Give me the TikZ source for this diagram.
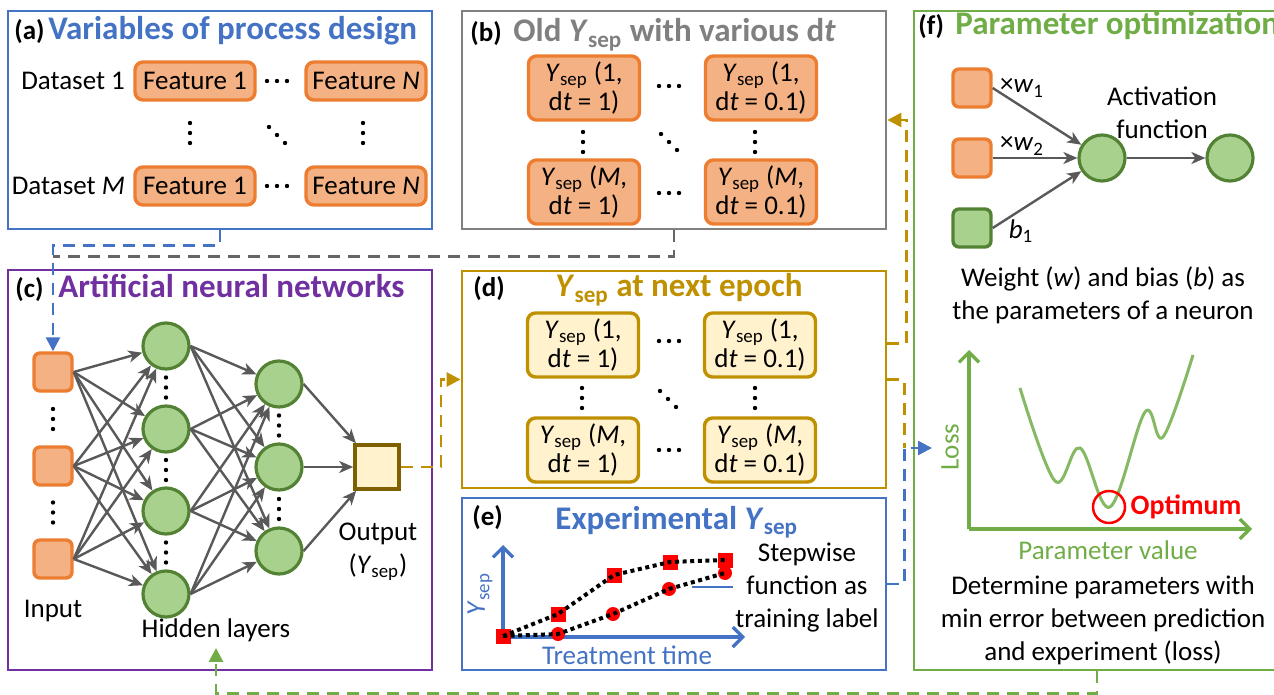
\documentclass[tikz,border=0pt]{standalone}
\usepackage{fontspec}
\setmainfont{Carlito}
\usetikzlibrary{arrows.meta,positioning,calc}

\definecolor{cblue}{HTML}{4472C4}
\definecolor{cgray}{HTML}{808080}
\definecolor{dashgray}{HTML}{666666}
\definecolor{cpurple}{HTML}{7030A0}
\definecolor{cgold}{HTML}{BF9000}
\definecolor{cgreen}{HTML}{70AD47}
\definecolor{corange}{HTML}{ED7D31}
\definecolor{orfill}{HTML}{F4B183}
\definecolor{grfill}{HTML}{A9D18E}
\definecolor{grdark}{HTML}{548235}
\definecolor{yefill}{HTML}{FFF2CC}
\definecolor{cbrown}{HTML}{7F6000}
\definecolor{arrgray}{HTML}{595959}

\newcommand{\ysep}{\textit{Y}\textsubscript{sep}}
% dot rows (vertical, horizontal, diagonal)
\newcommand{\vdotz}[1]{\foreach \dk in {-10,0,10}{\fill ($#1+(0,\dk)$) circle (1.1pt);}}
\newcommand{\hdotz}[1]{\foreach \dk in {-10,0,10}{\fill ($#1+(\dk,0)$) circle (1.1pt);}}
\newcommand{\ddotz}[1]{\foreach \dk in {-8,0,8}{\fill ($#1+(\dk,\dk)$) circle (1.1pt);}}

\tikzset{
  panel/.style={draw, line width=1.4pt, inner sep=0pt},
  ptag/.style={font=\bfseries\fontsize{13.5}{16}\selectfont, anchor=base west, inner sep=0pt},
  ptitle/.style={font=\bfseries\fontsize{16.5}{19}\selectfont, anchor=base west, inner sep=0pt},
  txt/.style={font=\fontsize{13.5}{16.5}\selectfont, inner sep=1pt, align=center},
  featbox/.style={draw=corange, fill=orfill, line width=1.7pt, rounded corners=4pt,
    minimum width=60pt, minimum height=19pt, inner sep=0pt, font=\fontsize{13.5}{16}\selectfont},
  oldbox/.style={featbox, minimum width=55.5pt, minimum height=32pt, align=center,
    font=\fontsize{13.5}{12.5}\selectfont},
  newbox/.style={oldbox, draw=cgold, fill=yefill},
  inbox/.style={draw=corange, fill=orfill, line width=1.7pt, rounded corners=3pt,
    minimum size=19pt, inner sep=0pt},
  neuron/.style={circle, draw=grdark, fill=grfill, line width=1.6pt, minimum size=23pt, inner sep=0pt},
  outbox/.style={draw=cbrown, fill=yefill, line width=1.8pt, minimum size=22pt, inner sep=0pt},
  nnarrow/.style={draw=arrgray, line width=1.2pt, -{Stealth[length=7pt,width=6pt,inset=2pt]}},
  flowdash/.style={line width=1.3pt, dash pattern=on 6pt off 4pt},
  flowtip/.style={-{Triangle[length=7pt,width=7pt]}},
  axisline/.style={line width=1.6pt, -{Straight Barb[length=5pt,width=10pt]}},
  mksq/.style={fill=red, minimum size=7.5pt, inner sep=0pt},
  mkci/.style={circle, fill=red, minimum size=7pt, inner sep=0pt},
  stepdots/.style={line width=2pt, dash pattern=on 2pt off 1.8pt},
}

\begin{document}
\begin{tikzpicture}[x=0.5pt,y=-0.5pt]
\useasboundingbox (0,0) rectangle (1274,695);

% Panels
\node[panel, draw=cblue, minimum width=212pt, minimum height=109pt] (pa) at (220,120) {};
\node[panel, draw=cgray, minimum width=212pt, minimum height=109pt] (pb) at (674,120) {};
\node[panel, draw=cpurple, minimum width=212pt, minimum height=200pt] (pc) at (220,470) {};
\node[panel, draw=cgold, minimum width=212pt, minimum height=108.5pt] (pd) at (674,379.5) {};
\node[panel, draw=cblue, minimum width=212pt, minimum height=86pt] (pe) at (674,584) {};
\node[panel, draw=cgreen, minimum width=183pt, minimum height=329.5pt] (pf) at (1097,340.5) {};

% (a) Variables of process design
\node[ptag] at (14,40) {(a)};
\node[ptitle, text=cblue] at (48,40) {Variables of process design};
\node[featbox] (f11) at (195,81) {Feature 1};
\node[featbox] (f1n) at (366,81) {Feature \textit{N}};
\node[featbox] (fm1) at (195,186) {Feature 1};
\node[featbox] (fmn) at (366,186) {Feature \textit{N}};
\node[txt, left=3pt of f11] (ds1) {Dataset 1};
\node[txt, left=3pt of fm1] (dsm) {Dataset \textit{M}};
\hdotz{(277,81)} \hdotz{(277,186)}
\vdotz{(190,133)} \vdotz{(363,133)} \ddotz{(277,135)}

% (b) Old Ysep
\node[ptag] at (470,42) {(b)};
\node[ptitle, text=cgray] at (513,42) {Old \ysep\ with various d\textit{t}};
\node[oldbox] (o11) at (584,88) {\ysep\ (1,\\d\textit{t} = 1)};
\node[oldbox] (o1n) at (761,88) {\ysep\ (1,\\d\textit{t} = 0.1)};
\node[oldbox] (om1) at (584,192) {\ysep\ (\textit{M},\\d\textit{t} = 1)};
\node[oldbox] (omn) at (761,192) {\ysep\ (\textit{M},\\d\textit{t} = 0.1)};
\hdotz{(669,86)} \hdotz{(669,193)}
\vdotz{(583,142)} \vdotz{(755,142)} \ddotz{(669,142)}

% (c) Artificial neural networks
\node[ptag] at (15,298) {(c)};
\node[ptitle, text=cpurple] at (58,298) {Artificial neural networks};
\foreach \y [count=\i] in {372,466,559} \node[inbox] (in\i) at (53,\y) {};
\foreach \y [count=\i] in {346,429,511,594} \node[neuron] (ha\i) at (166,\y) {};
\foreach \y [count=\i] in {384,467,551} \node[neuron] (hb\i) at (279,\y) {};
\node[outbox] (out) at (377,467) {};
\foreach \i in {1,2,3} \foreach \j in {1,...,4} \draw[nnarrow] (in\i.east) -- (ha\j);
\foreach \i in {1,...,4} \foreach \j in {1,2,3} \draw[nnarrow] (ha\i.east) -- (hb\j);
\foreach \i in {1,2,3} \draw[nnarrow] (hb\i.east) -- (out);
\vdotz{(in1)!.5!(in2)} \vdotz{(in2)!.5!(in3)}
\vdotz{(ha1)!.5!(ha2)} \vdotz{(ha2)!.5!(ha3)} \vdotz{(ha3)!.5!(ha4)}
\vdotz{(hb1)!.5!(hb2)} \vdotz{(hb2)!.5!(hb3)}
\node[txt] (inl) at (53,611) {Input};
\node[txt] (hidl) at (216,630) {Hidden layers};
\node[txt] (outl) at (378,552) {Output\\(\ysep)};

% (d) Ysep at next epoch
\node[ptag] at (473,297) {(d)};
\node[ptitle, text=cgold] at (555,297) {\ysep\ at next epoch};
\node[newbox] (n11) at (583,345) {\ysep\ (1,\\d\textit{t} = 1)};
\node[newbox] (n1n) at (760,345) {\ysep\ (1,\\d\textit{t} = 0.1)};
\node[newbox] (nm1) at (583,450) {\ysep\ (\textit{M},\\d\textit{t} = 1)};
\node[newbox] (nmn) at (760,450) {\ysep\ (\textit{M},\\d\textit{t} = 0.1)};
\hdotz{(669,341)} \hdotz{(669,450)}
\vdotz{(582,398)} \vdotz{(755,398)} \ddotz{(668,399)}

% (e) Experimental Ysep
\node[ptag] at (472,525) {(e)};
\node[ptitle, text=cblue] at (555,529) {Experimental \ysep};
\coordinate (eo) at (503,637);
\coordinate (ey) at (503,545);
\coordinate (ex) at (745,637);
\draw[axisline, cblue] (eo) -- (ey);
\draw[axisline, cblue] (eo) -- (ex);
\node[txt, text=cblue, rotate=90] (eyl) at (480,594) {\ysep};
\node[txt, text=cblue] (exl) at (627,655) {Treatment time};
\foreach \x/\y [count=\i] in {503/636,558/614,614/575,670/562,725/560} \node[mksq] (s\i) at (\x,\y) {};
\foreach \x/\y [count=\i] in {558/634,613/614,669/589,725/573} \node[mkci] (c\i) at (\x,\y) {};
\draw[stepdots] (s1.center) -- (s2.center) -- (s3.center) -- (s4.center) -- (s5.center);
\draw[stepdots] (s1.center) -- (c1.center) -- (c2.center) -- (c3.center) -- (c4.center);
\node[txt] (stepl) at (807,588) {Stepwise\\function as\\training label};
\coordinate (ptr) at (692,587);
\draw[cblue, line width=1.3pt] (ptr) -- (ptr -| stepl.west);

% (f) Parameter optimization
\node[ptag] at (918,35) {(f)};
\node[ptitle, text=cgreen] at (955,35) {Parameter optimization};
\node[inbox] (w1) at (972,88) {};
\node[inbox] (w2) at (972,158) {};
\node[inbox, draw=grdark, fill=grfill] (b1) at (972,228) {};
\node[neuron] (act) at (1102,158) {};
\node[neuron] (actout) at (1230,158) {};
\draw[nnarrow] (w1.east) -- (act);
\draw[nnarrow] (w2.east) -- (act);
\draw[nnarrow] (b1.east) -- (act);
\draw[nnarrow] (act) -- (actout);
\node[txt] (w1l) at (1022,88) {×\textit{w}\textsubscript{1}};
\node[txt] (w2l) at (1022,146) {×\textit{w}\textsubscript{2}};
\node[txt] (b1l) at (1021,231) {\textit{b}\textsubscript{1}};
\node[txt] (actl) at (1162,113) {Activation\\function};
\node[txt] (wbl) at (1103,295) {Weight (\textit{w}) and bias (\textit{b}) as\\the parameters of a neuron};
\coordinate (lo) at (969,529);
\coordinate (ly) at (969,350);
\coordinate (lx) at (1252,529);
\draw[axisline, cgreen] (lo) -- (ly);
\draw[axisline, cgreen] (lo) -- (lx);
\node[txt, text=cgreen, rotate=90] (lossl) at (950,447) {Loss};
\node[txt, text=cgreen] (parl) at (1108,550) {Parameter value};
\draw[cgreen!85, line width=1.5pt] plot[smooth, tension=0.6] coordinates {(1020,388) (1055,481) (1080,448) (1110,507) (1145,412) (1163,437) (1193,355)};
\node[circle, draw=red, line width=1.25pt, minimum size=16pt, inner sep=0pt] (optc) at (1109,507) {};
\node[font=\bfseries\fontsize{14}{16}\selectfont, text=red, inner sep=1pt, right=1pt of optc] (optl) {Optimum};
\node[txt] (detl) at (1103,620) {Determine parameters with\\min error between prediction\\and experiment (loss)};

% Flow connectors
\coordinate (lossin) at (932,448);
\draw[flowdash, cblue, flowtip] (pa.south) -- ++(0,15) -| (in1.north);
\draw[flowdash, dashgray] (pb.south) -- ++(0,26) coordinate (gb) -- (gb -| in1.north);
\draw[flowdash, cgold, flowtip] (out.east) -- ++(40,0) |- (pd.west);
\draw[flowdash, cgold, flowtip] ([yshift=18pt]pd.east) -- ++(19,0) |- (pb.east);
\draw[flowdash, cgold] (pd.east) -- ++(17,0) coordinate (gd) -- (gd |- lossin);
\draw[flowdash, cblue, flowtip] (pe.east) -- ++(17,0) |- (lossin);
\draw[flowdash, cgreen, flowtip, shorten >=2pt] (pf.south) -- ++(0,22) -| (hidl.south);
\end{tikzpicture}
\end{document}
